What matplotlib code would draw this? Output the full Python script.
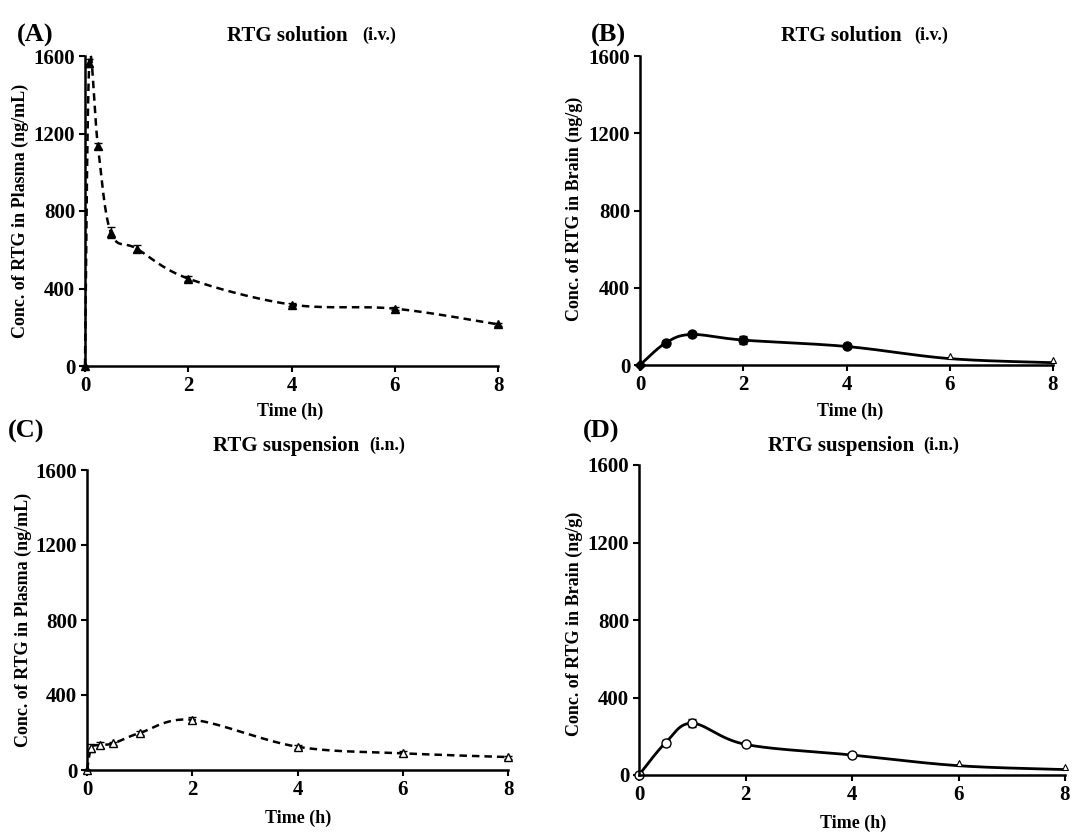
import matplotlib
matplotlib.use("Agg")
import matplotlib.pyplot as plt
import numpy as np

plt.rcParams['font.family'] = ['Liberation Serif', 'DejaVu Serif']
plt.rcParams['font.weight'] = 'bold'

# sampling times (h)
t_plasma = [0, 0.083, 0.25, 0.5, 1, 2, 4, 6, 8]
t_brain = [0, 0.5, 1, 2, 4, 6, 8]

# (A) plasma, i.v. solution
iv_plasma = [0, 1562, 1135, 689, 606, 451, 317, 296, 215]
iv_plasma_sd = [0, 20, 15, 30, 18, 12, 8, 8, 8]
# (B) brain, i.v. solution
iv_brain = [0, 115, 158, 129, 96, 33, 12]
iv_brain_sd = [0, 8, 10, 22, 8, 0, 0]
# (C) plasma, i.n. suspension
in_plasma = [0, 117, 133, 142, 197, 268, 124, 89, 69]
in_plasma_sd = [0, 20, 15, 10, 12, 15, 10, 15, 8]
# (D) brain, i.n. suspension
in_brain = [0, 167, 267, 158, 103, 48, 28]
in_brain_sd = [0, 15, 20, 8, 8, 0, 0]

yticks = [0, 400, 800, 1200, 1600]
xticks = [0, 2, 4, 6, 8]

W, H = 1092, 832


def px(x, y):
    return x / W, 1 - y / H


def smooth(x, y, n=30):
    # bezier smoothing through every point (spreadsheet style)
    x = np.asarray(x, float)
    y = np.asarray(y, float)
    pts = np.column_stack([x, y])
    out = [pts[0]]
    for i in range(len(pts) - 1):
        p0 = pts[max(i - 1, 0)]
        p1 = pts[i]
        p2 = pts[i + 1]
        p3 = pts[min(i + 2, len(pts) - 1)]
        c1 = p1 + (p2 - p0) / 6
        c2 = p2 - (p3 - p1) / 6
        s = np.linspace(0, 1, n)[1:, None]
        seg = ((1 - s) ** 3) * p1 + 3 * ((1 - s) ** 2) * s * c1 + 3 * (1 - s) * s ** 2 * c2 + s ** 3 * p2
        out.extend(seg)
    out = np.array(out)
    return out[:, 0], out[:, 1]


def make_axes(fig, x0, x8, y0, y1600):
    l, b = px(x0, y0)
    r, t = px(x8, y1600)
    ax = fig.add_axes([l, b, r - l, t - b])
    ax.set_xlim(0, 8)
    ax.set_ylim(0, 1600)
    ax.set_xticks(xticks)
    ax.set_yticks(yticks)
    for s in ['top', 'right']:
        ax.spines[s].set_visible(False)
    for s in ['left', 'bottom']:
        ax.spines[s].set_linewidth(1.8)
    ax.tick_params(direction='out', length=4, width=1.5, labelsize=15, pad=3)
    for lab in ax.get_xticklabels() + ax.get_yticklabels():
        lab.set_fontweight('bold')
    return ax


fig = plt.figure(figsize=(W / 100, H / 100), dpi=100)

axA = make_axes(fig, 85, 498, 366, 56)
axB = make_axes(fig, 640, 1053, 365, 56)
axC = make_axes(fig, 87, 508, 770, 470)
axD = make_axes(fig, 639, 1065, 775, 465)

# (A)
sx, sy = smooth(t_plasma, iv_plasma)
axA.plot(sx, sy, color='black', lw=1.8, ls=(0, (3, 2)), clip_on=False)
axA.errorbar(t_plasma, iv_plasma, yerr=iv_plasma_sd, fmt='^', color='black',
             ms=6, capsize=3, elinewidth=1, clip_on=False)

# (B)
sx, sy = smooth(t_brain, iv_brain)
axB.plot(sx, sy, color='black', lw=2, clip_on=False)
axB.errorbar(t_brain[1:5], iv_brain[1:5], yerr=iv_brain_sd[1:5], fmt='o', color='black',
             ms=6.5, capsize=3, elinewidth=1, clip_on=False)
axB.plot(t_brain[:1], iv_brain[:1], 'D', color='black', ms=5, clip_on=False)
axB.plot(t_brain[5:], np.array(iv_brain[5:]) + 14, '^', mfc='white', mec='black',
         ms=4.5, mew=0.8, clip_on=False)

# (C)
sx, sy = smooth(t_plasma, in_plasma)
axC.plot(sx, sy, color='black', lw=1.8, ls=(0, (3, 2)), clip_on=False)
axC.errorbar(t_plasma, in_plasma, yerr=in_plasma_sd, fmt='^', mfc='white', mec='black',
             color='black', ms=6, capsize=3, elinewidth=1, clip_on=False)

# (D)
sx, sy = smooth(t_brain, in_brain)
axD.plot(sx, sy, color='black', lw=2, clip_on=False)
axD.errorbar(t_brain[:5], in_brain[:5], yerr=in_brain_sd[:5], fmt='o', mfc='white', mec='black',
             color='black', ms=6.5, capsize=3, elinewidth=1, clip_on=False)
axD.plot(t_brain[5:], np.array(in_brain[5:]) + 14, '^', mfc='white', mec='black',
         ms=4.5, mew=0.8, clip_on=False)

# panel letters, titles and axis labels
letters = [('(A)', 17, 35), ('(B)', 591, 35), ('(C)', 8, 431), ('(D)', 583, 431)]
for txt, x, y in letters:
    fig.text(*px(x, y), txt, fontsize=19, fontweight='bold', va='center', ha='left')

titles = [
    ('RTG solution', 227, 36, '(i.v.)', 362),
    ('RTG solution', 781, 36, '(i.v.)', 914),
    ('RTG suspension', 213, 446, '(i.n.)', 369),
    ('RTG suspension', 768, 446, '(i.n.)', 923),
]
for main, x, y, sub, xs in titles:
    fig.text(*px(x, y), main, fontsize=15, fontweight='bold', va='center', ha='left')
    fig.text(*px(xs, y - 1), sub, fontsize=13, fontweight='bold', va='center', ha='left')

ylabels = [
    ('Conc. of RTG in Plasma (ng/mL)', 20, 211),
    ('Conc. of RTG in Brain (ng/g)', 574, 209),
    ('Conc. of RTG in Plasma (ng/mL)', 23, 620),
    ('Conc. of RTG in Brain (ng/g)', 574, 624),
]
for txt, x, y in ylabels:
    fig.text(*px(x, y), txt, fontsize=13, fontweight='bold', rotation=90,
             va='center', ha='center')

xlabels = [(290, 411), (850, 411), (298, 818), (853, 823)]
for x, y in xlabels:
    fig.text(*px(x, y), 'Time (h)', fontsize=13, fontweight='bold', va='center', ha='center')

fig.savefig('out.png', dpi=100)
